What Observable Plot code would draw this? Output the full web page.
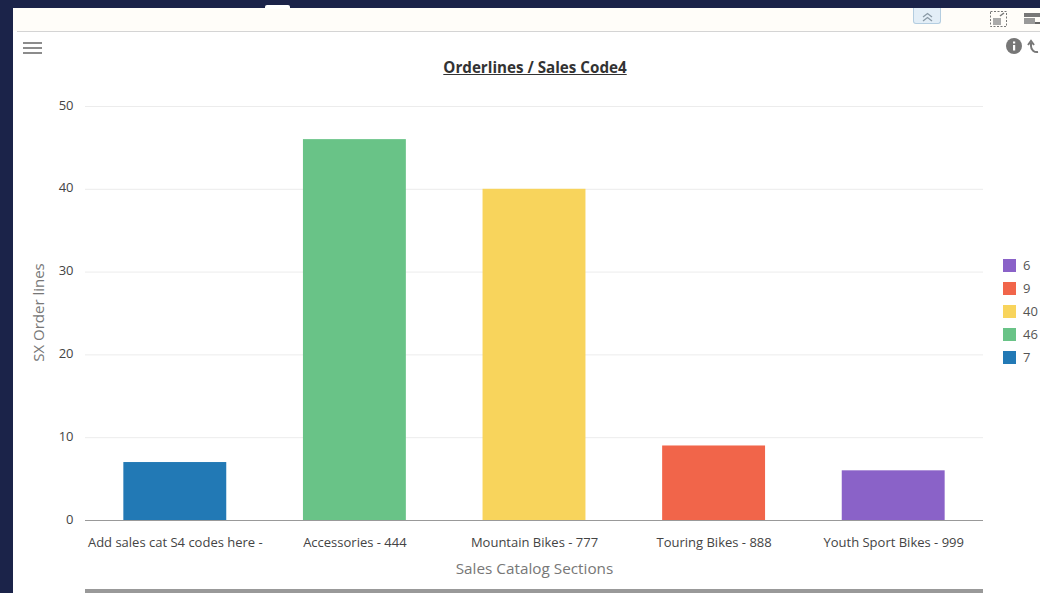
<!DOCTYPE html>
<html>
<head>
<meta charset="utf-8">
<script src="https://cdn.jsdelivr.net/npm/d3@7"></script>
<script src="https://cdn.jsdelivr.net/npm/@observablehq/plot@0.6"></script>
<style>
html,body{margin:0;padding:0;background:#1b2349;overflow:hidden}
#page{position:relative;width:1040px;height:593px;font-family:"Open Sans","Noto Sans",sans-serif;overflow:hidden}
#panel{position:absolute;left:13px;top:8px;width:1027px;height:585px;background:#fff}
#strip{position:absolute;left:13px;top:8px;width:1027px;height:23px;background:#fffdf9}
#rule{position:absolute;left:17px;top:31px;width:1023px;height:1px;background:#d4d4d4}
#chart{position:absolute;left:0;top:0}
#title{position:absolute;left:85px;width:900px;top:57px;text-align:center;font-size:15.200px;font-weight:700;color:#333;text-decoration:underline}
#legend{position:absolute;left:1003px;top:254px}
.li{display:flex;align-items:center;height:23px;font-size:13px;color:#555}
.li span{position:relative;top:-1px}
.sw{width:13px;height:13px;margin-right:7px}
#scroll{position:absolute;left:85px;top:589px;width:898px;height:4px;background:#999}
.bar3{position:absolute;left:23px;width:19px;height:2px;background:#8c8c8c}
#tab{position:absolute;left:265px;top:5px;width:25px;height:4px;background:#fff;border-radius:2px 2px 0 0}
#btn{position:absolute;left:913px;top:8px;width:28px;height:16px;background:#e3eef7;border:1px solid #b4cde0;border-top:none;border-radius:0 0 3px 3px;box-sizing:border-box}
.ic{position:absolute}
</style>
</head>
<body>
<div id="page">
  <div id="panel"></div>
  <div id="strip"></div>
  <div id="tab"></div>
  <div id="rule"></div>
  <div id="btn"><svg width="26" height="15"><path d="M9 7l4.500-3.500 4.500 3.500M9 11l4.500-3.500 4.500 3.500" fill="none" stroke="#8a9aa6" stroke-width="1.300"/></svg></div>
  <svg class="ic" style="left:989px;top:10px" width="20" height="18"><rect x="1.500" y="1.500" width="16" height="15" fill="none" stroke="#777" stroke-dasharray="2 1.500"/><rect x="4" y="8" width="8" height="7" fill="#aaa"/><path d="M11 6l4-3" stroke="#777" stroke-width="1.500"/></svg>
  <svg class="ic" style="left:1024px;top:12px" width="16" height="16"><rect x="0" y="1" width="16" height="4" fill="#777"/><rect x="0" y="6" width="11" height="6" fill="#999"/><path d="M11 11h5" stroke="#666" stroke-width="2"/></svg>
  <svg class="ic" style="left:1005px;top:37px" width="35" height="18"><circle cx="9" cy="9" r="8" fill="#777"/><rect x="8" y="8" width="2.200" height="5.500" fill="#fff"/><rect x="8" y="4.500" width="2.200" height="2" fill="#fff"/><path d="M33 15a6 6 0 0 1-7-6v-3M23 8l3-4 3 4" fill="none" stroke="#777" stroke-width="2"/></svg>
  <div class="bar3" style="top:42px"></div><div class="bar3" style="top:47px"></div><div class="bar3" style="top:52px"></div>
  <div id="chart"></div>
  <div id="title"></div>
  <div id="legend"></div>
  <div id="scroll"></div>
</div>
<script>
const chartTitle = "Orderlines / Sales Code4";
const categories = ["Add sales cat S4 codes here -", "Accessories - 444", "Mountain Bikes - 777", "Touring Bikes - 888", "Youth Sport Bikes - 999"];
const orderLines = [7, 46, 40, 9, 6];
const barColors = ["#2279b5", "#69c387", "#f8d45c", "#f1654a", "#8a62c8"];
const yTicks = [0, 10, 20, 30, 40, 50];
const yLabel = "SX Order lines";
const xLabel = "Sales Catalog Sections";

const rows = categories.map((c, i) => ({category: c, value: orderLines[i], color: barColors[i]}));

const plot = Plot.plot({
  width: 1040,
  height: 593,
  marginLeft: 85,
  marginRight: 57,
  marginTop: 106,
  marginBottom: 73,
  style: {background: "transparent", fontFamily: '"Open Sans","Noto Sans",sans-serif', fontSize: "13px", color: "#444"},
  x: {domain: categories, paddingInner: 0.427, paddingOuter: 0.2135, round: false, label: null},
  y: {domain: [0, 50], label: null},
  marks: [
    Plot.gridY(yTicks, {stroke: "#ececec", strokeOpacity: 1}),
    Plot.barY(rows, {x: "category", y: "value", fill: "color"}),
    Plot.ruleY([0], {stroke: "#999"}),
    Plot.axisX({tickSize: 0, tickPadding: 17, fontSize: 13, fill: "#444", label: null, tickFormat: d => d}),
    Plot.axisY(yTicks, {tickSize: 0, tickPadding: 12, dy: -1, fontSize: 13, fill: "#444", label: null}),
    Plot.text([yLabel], {frameAnchor: "left", textAnchor: "middle", dx: -46, dy: -1, rotate: -90, fill: "#777", fontSize: 15}),
    Plot.text([xLabel], {frameAnchor: "bottom", dy: 53, fill: "#777", fontSize: 15.300})
  ]
});
document.getElementById("chart").appendChild(plot);
document.getElementById("title").textContent = chartTitle;

const legend = document.getElementById("legend");
rows.slice().reverse().forEach(r => {
  const li = document.createElement("div"); li.className = "li";
  const sw = document.createElement("div"); sw.className = "sw"; sw.style.background = r.color;
  const t = document.createElement("span"); t.textContent = r.value;
  li.append(sw, t); legend.appendChild(li);
});
</script>
</body>
</html>
